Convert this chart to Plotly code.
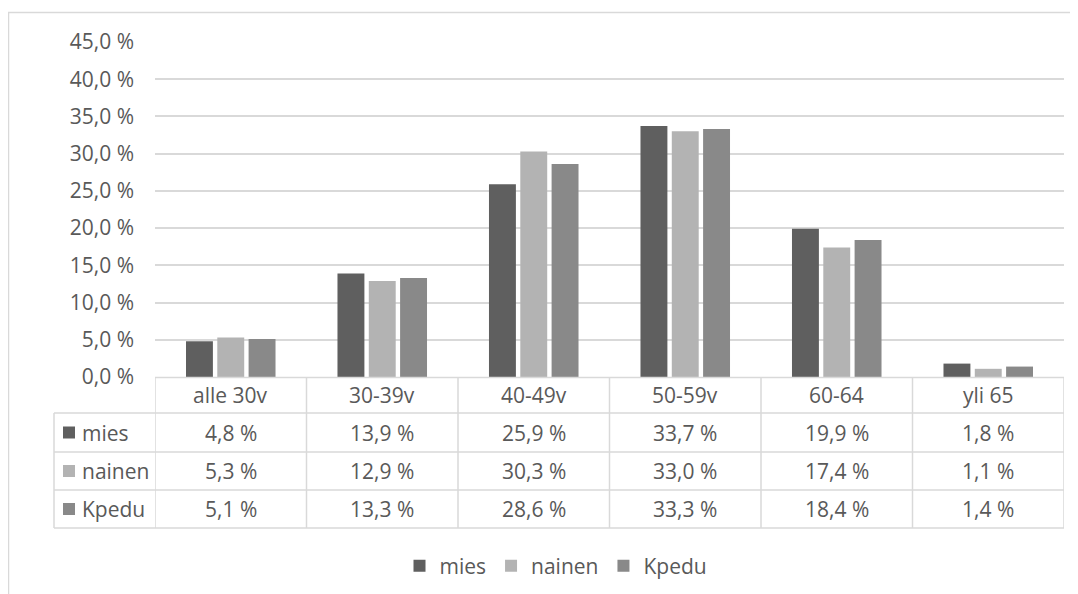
import plotly.graph_objects as go

categories = ["alle 30v", "30-39v", "40-49v", "50-59v", "60-64", "yli 65"]
series_names = ["mies", "nainen", "Kpedu"]
mies = [4.8, 13.9, 25.9, 33.7, 19.9, 1.8]
nainen = [5.3, 12.9, 30.3, 33.0, 17.4, 1.1]
kpedu = [5.1, 13.3, 28.6, 33.3, 18.4, 1.4]
tick_values = [0, 5, 10, 15, 20, 25, 30, 35, 40, 45]
tick_labels = ["0,0 %", "5,0 %", "10,0 %", "15,0 %", "20,0 %", "25,0 %",
               "30,0 %", "35,0 %", "40,0 %", "45,0 %"]

colors = ["#5f5f5f", "#b3b3b3", "#898989"]
series_values = [mies, nainen, kpedu]

# page body adds an 8px offset; the figure is sized to fit the window
OFF = 8
W, H = 1078 - OFF, 594 - OFF
FONT = "Open Sans"
FS = 21
TXT = "#595959"
GRID = "#d9d9d9"


def px(x):
    return (x - OFF) / W


def py(y):
    return 1 - (y - OFF) / H


def fmt(v):
    return f"{v:.1f} %".replace(".", ",")


fig = go.Figure()
for name, vals, col in zip(series_names, series_values, colors):
    fig.add_trace(go.Bar(x=categories, y=vals, name=name, marker_color=col,
                         marker_line_width=0))

plot_left, plot_right = 155, 1064
plot_top, plot_bottom = 42, 377
table_left = 54
row_lines = [377.5, 413, 452, 490, 528]

shapes = []
# outer chart frame
shapes.append(dict(type="rect", xref="paper", yref="paper",
                   x0=px(8.5), x1=px(1100), y0=py(12.5), y1=py(620),
                   line=dict(color=GRID, width=1.5), fillcolor="rgba(0,0,0,0)",
                   layer="below"))
# table horizontal lines
shapes.append(dict(type="line", xref="paper", yref="paper",
                   x0=px(plot_left), x1=px(plot_right), y0=py(row_lines[0]), y1=py(row_lines[0]),
                   line=dict(color=GRID, width=1.5)))
for yl in row_lines[1:]:
    shapes.append(dict(type="line", xref="paper", yref="paper",
                       x0=px(table_left), x1=px(plot_right), y0=py(yl), y1=py(yl),
                       line=dict(color=GRID, width=1.5)))
# table vertical lines
for i in range(len(categories) + 1):
    shapes.append(dict(type="line", xref="x", yref="paper",
                       x0=i - 0.5, x1=i - 0.5, y0=py(row_lines[0]), y1=py(row_lines[-1]),
                       line=dict(color=GRID, width=1.5)))
shapes.append(dict(type="line", xref="paper", yref="paper",
                   x0=px(table_left), x1=px(table_left), y0=py(row_lines[1]), y1=py(row_lines[-1]),
                   line=dict(color=GRID, width=1.5)))

annotations = []
# header row
hdr_y = (row_lines[0] + row_lines[1]) / 2
for c in categories:
    annotations.append(dict(x=c, xref="x", y=py(hdr_y), yref="paper", text=c,
                            showarrow=False, font=dict(family=FONT, size=FS, color=TXT),
                            xanchor="center", yanchor="middle"))
# data rows
for r, (name, vals, col) in enumerate(zip(series_names, series_values, colors)):
    yc = (row_lines[r + 1] + row_lines[r + 2]) / 2
    shapes.append(dict(type="rect", xref="paper", yref="paper",
                       x0=px(63), x1=px(75), y0=py(yc - 6), y1=py(yc + 6),
                       line=dict(width=0), fillcolor=col))
    annotations.append(dict(x=px(80), xref="paper", y=py(yc), yref="paper", text=name,
                            showarrow=False, font=dict(family=FONT, size=FS, color=TXT),
                            xanchor="left", yanchor="middle"))
    for c, v in zip(categories, vals):
        annotations.append(dict(x=c, xref="x", y=py(yc), yref="paper", text=fmt(v),
                                showarrow=False, font=dict(family=FONT, size=FS, color=TXT),
                                xanchor="center", yanchor="middle"))

fig.update_layout(
    width=W, height=H, autosize=False,
    margin=dict(l=0, r=0, t=0, b=0, autoexpand=False),
    paper_bgcolor="white", plot_bgcolor="white",
    barmode="group", bargap=0.38, bargroupgap=0.14,
    font=dict(family=FONT, size=FS, color=TXT),
    xaxis=dict(domain=[px(plot_left), px(plot_right)], range=[-0.5, 5.5],
               showticklabels=False, showgrid=False, zeroline=False, showline=False,
               fixedrange=True, automargin=False),
    yaxis=dict(domain=[py(plot_bottom), py(plot_top)], range=[0, 45],
               tickvals=tick_values, ticktext=tick_labels,
               showgrid=True, gridcolor=GRID, gridwidth=1.5, zeroline=False,
               showline=False, ticks="", ticklabelstandoff=20, automargin=False,
               tickfont=dict(family=FONT, size=FS, color=TXT)),
    showlegend=True,
    legend=dict(orientation="h", x=px(556), xanchor="center", y=py(566), yanchor="middle",
                font=dict(family=FONT, size=FS, color=TXT), itemwidth=30,
                traceorder="normal", bgcolor="rgba(0,0,0,0)"),
    shapes=shapes, annotations=annotations,
)

fig.write_html("out.html")
